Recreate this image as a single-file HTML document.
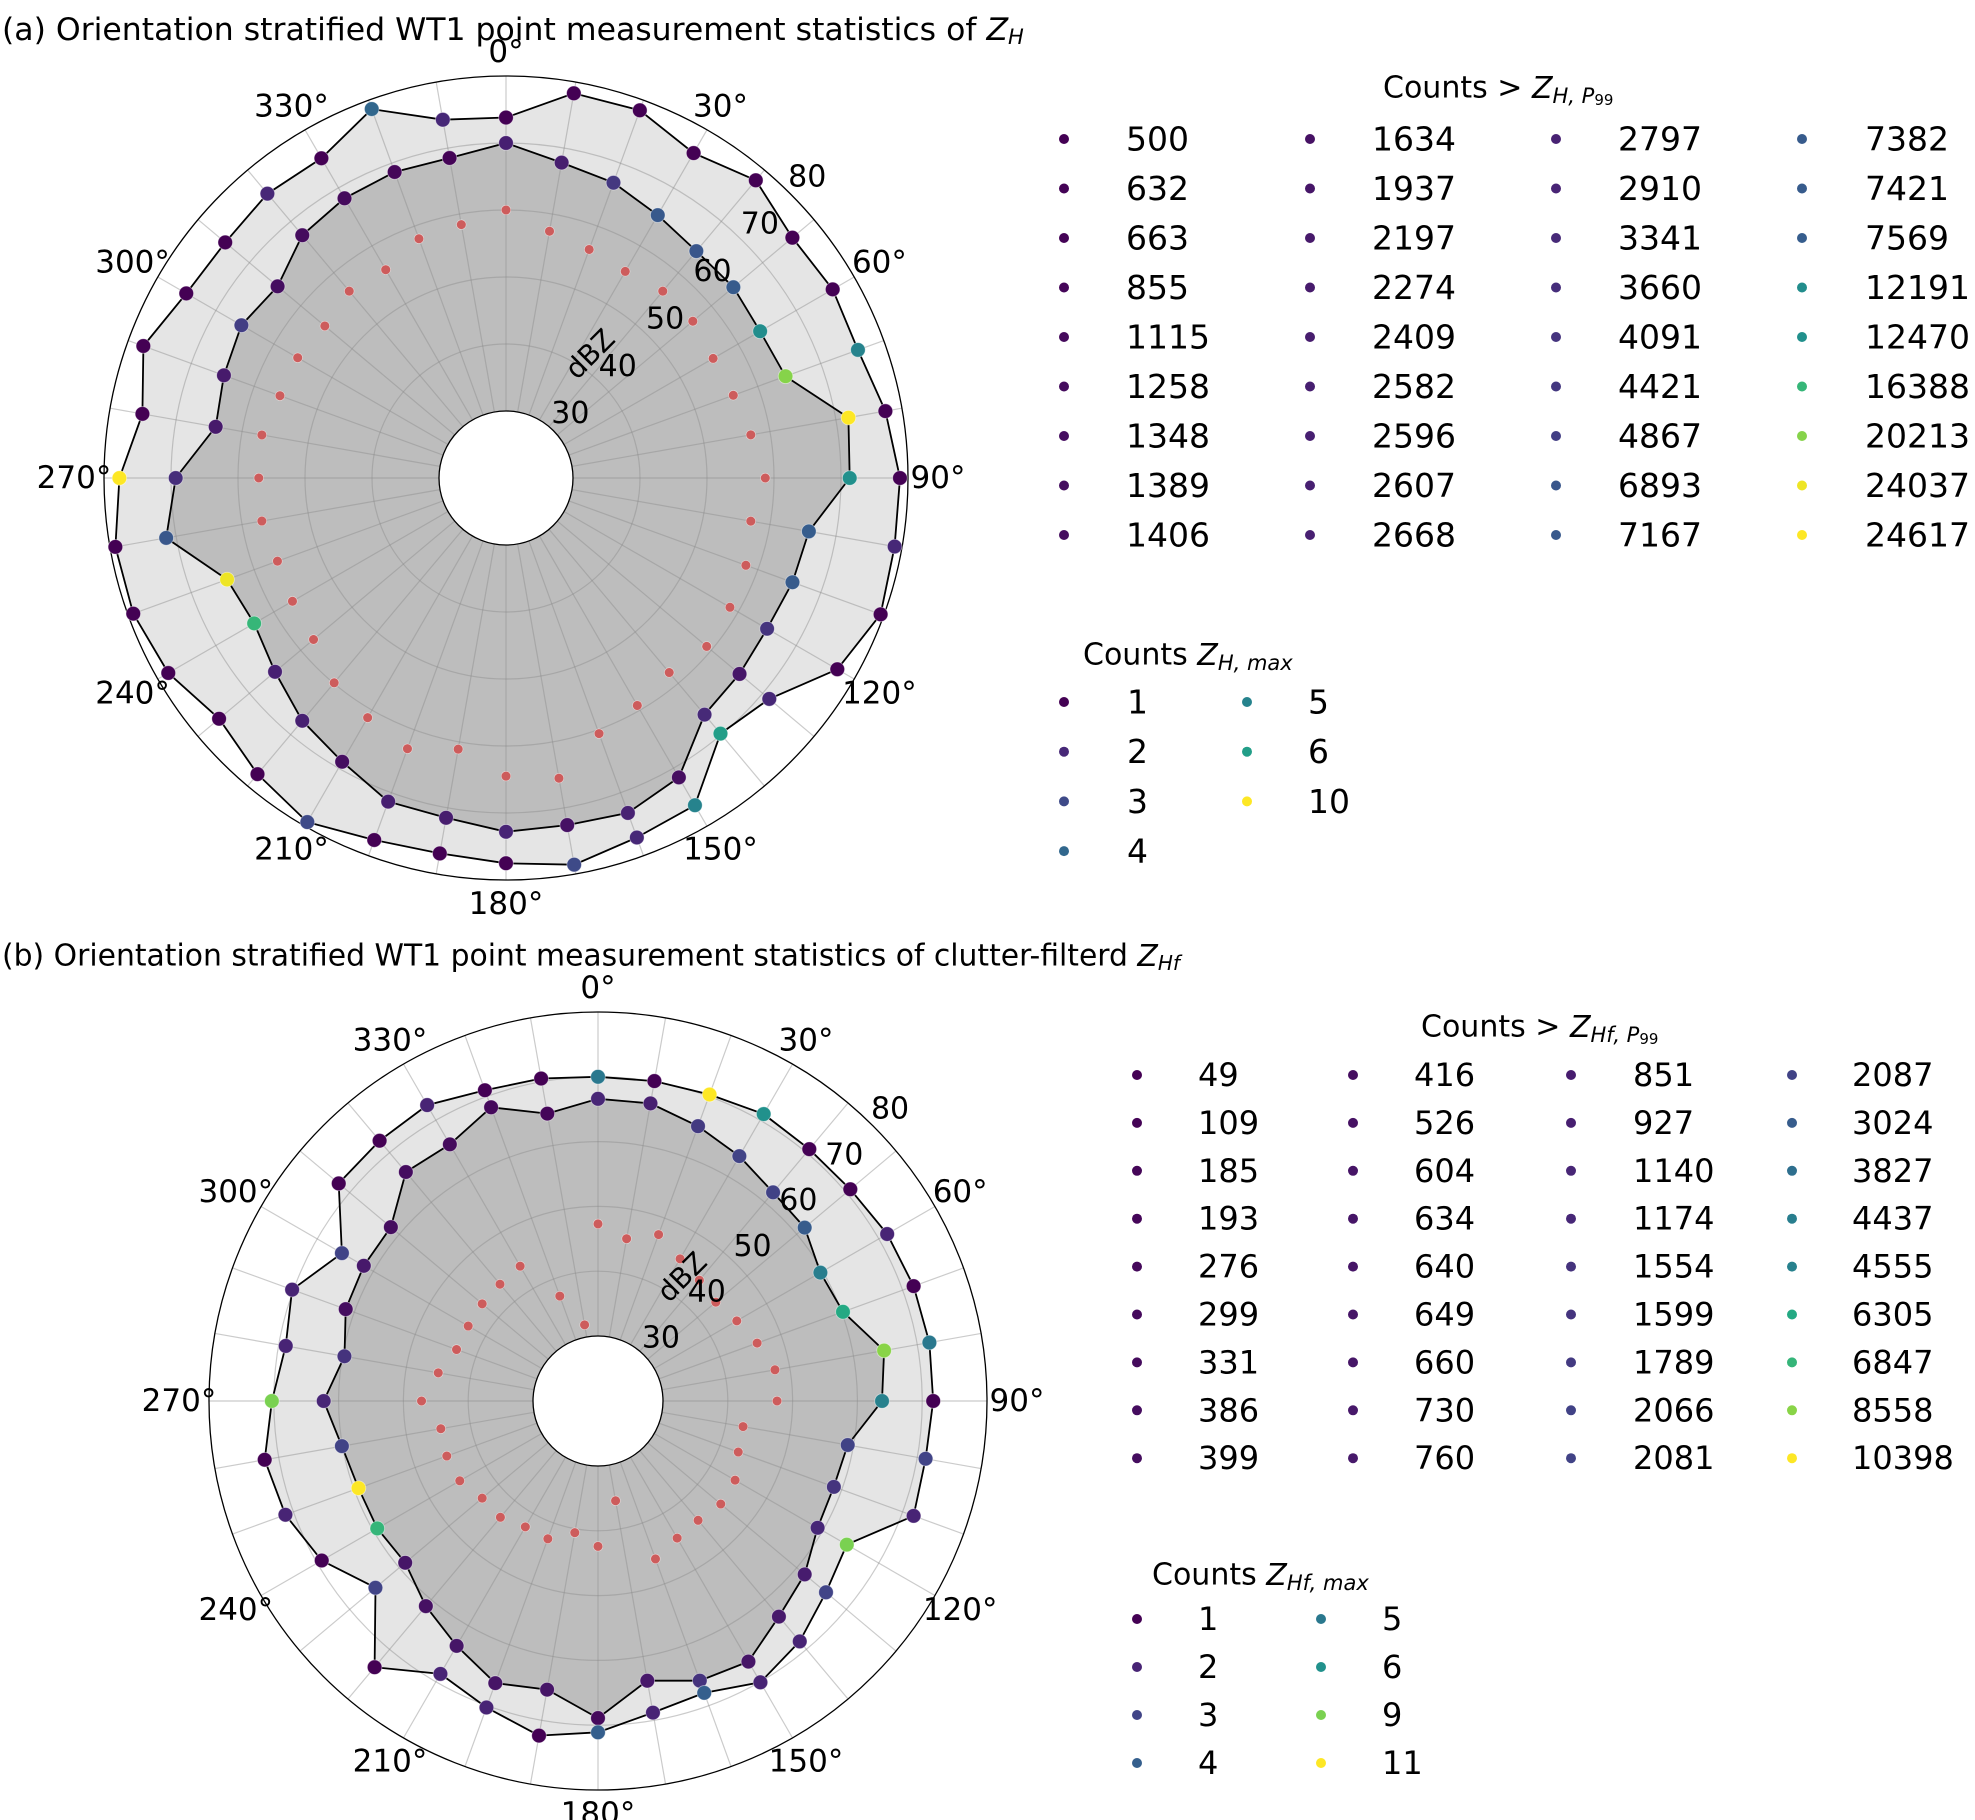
<!DOCTYPE html>
<html><head><meta charset="utf-8"><style>
html,body{margin:0;padding:0;background:#fff;}
svg{display:block;font-family:"DejaVu Sans","Liberation Sans",sans-serif;}
</style></head><body>
<svg id="fig" width="1975" height="1820" viewBox="0 0 1975 1820" xmlns="http://www.w3.org/2000/svg">
<rect width="1975" height="1820" fill="#fff"/>
<text x="2" y="30" font-size="31.5" dominant-baseline="central">(a) Orientation stratified WT1 point measurement statistics of <tspan font-style="italic">Z</tspan><tspan font-style="italic" font-size="21" dy="7">H</tspan></text>
<text x="2" y="956" font-size="29.8" dominant-baseline="central">(b) Orientation stratified WT1 point measurement statistics of clutter-filterd <tspan font-style="italic">Z</tspan><tspan font-style="italic" font-size="20" dy="7">Hf</tspan></text>
<g id="plotA"></g>
<g id="plotB"></g>
<g id="legends"></g>
</svg>
<script>
const angles = [0,10,20,30,40,50,60,70,80,90,100,110,120,130,140,150,160,170,180,190,200,210,220,230,240,250,260,270,280,290,300,310,320,330,340,350];
const rTicks = [30,40,50,60,70,80];
const thetaTicks = [0,30,60,90,120,150,180,210,240,270,300,330];

// Panel (a)
const maxA = [73.8,78.3,78.4,76.0,78.0,75.8,76.3,75.9,77.5,78.8,78.9,79.5,77.1,71.3,69.8,76.4,77.1,78.6,77.5,76.9,77.5,79.3,77.7,75.9,78.2,79.2,79.2,77.7,75.1,77.6,75.1,74.7,75.4,75.1,78.6,74.3];
const p99A = [70.0,67.8,66.9,65.3,64.2,64.3,63.8,64.4,71.9,71.3,65.9,65.5,65.0,65.5,66.1,71.6,73.2,72.6,72.8,71.5,71.4,68.9,67.3,65.0,63.4,64.3,71.5,69.3,64.0,64.8,65.6,64.5,67.3,68.2,68.6,68.5];
const medA = [60.0,57.4,56.3,55.6,56.4,56.4,55.7,56.1,57.1,58.7,57.1,58.1,58.6,59.1,57.9,59.2,60.6,65.5,64.5,61.1,63.0,61.3,59.9,57.5,56.8,56.3,57.0,56.9,57.0,55.9,55.9,55.3,56.4,55.9,58.0,58.4];
const maxCountA = [1,1,1,1,1,1,1,5,1,1,2,1,1,2,6,5,2,3,1,1,1,3,1,1,1,1,1,10,1,1,1,1,2,1,4,2];
const p99CountA = [2600,2500,4400,7167,6893,7382,12191,20213,24617,12470,7569,7421,4091,1937,3341,1406,2797,1634,2910,2409,2582,1348,2607,2668,16388,24037,7000,3660,2197,2274,4867,1389,1258,1115,855,632];
const legP99A = [500,632,663,855,1115,1258,1348,1389,1406,1634,1937,2197,2274,2409,2582,2596,2607,2668,2797,2910,3341,3660,4091,4421,4867,6893,7167,7382,7421,7569,12191,12470,16388,20213,24037,24617];
const legMaxA = [1,2,3,4,5,6,10];

// Panel (b)
const maxB = [70.0,70.1,70.3,71.1,70.7,70.8,71.5,71.8,71.9,71.7,71.3,71.8,64.3,65.9,68.4,70.1,67.9,68.8,71.1,72.4,70.3,68.6,73.6,64.8,69.2,71.3,72.2,70.3,68.9,70.2,65.6,72.2,72.4,72.7,71.0,70.5];
const p99B = [66.6,66.6,65.1,63.6,62.0,61.6,59.6,60.2,64.8,63.8,59.1,58.7,59.1,61.6,63.4,66.4,65.9,63.8,68.9,65.2,66.3,63.6,61.3,58.8,59.3,59.3,60.1,62.3,59.7,61.4,61.7,61.7,66.1,65.7,68.2,65.0];
const medB = [47.3,45.4,47.3,45.3,44.3,43.7,44.7,46.1,47.7,47.6,42.7,43.0,44.4,44.7,44.0,44.4,45.9,35.6,42.4,40.6,42.6,42.4,43.4,43.3,44.6,44.8,44.6,47.2,45.0,43.2,43.1,43.3,43.5,44.0,37.2,31.9];
const maxCountB = [5,1,11,6,1,1,2,1,5,1,3,2,9,3,2,2,4,2,4,1,2,2,1,3,1,2,1,9,2,2,3,1,1,2,1,1];
const p99CountB = [1140,927,1789,2081,2066,3024,4437,6305,8558,4555,2087,1599,1174,851,760,649,1554,730,299,640,604,660,526,634,6847,10398,2087,1140,1554,416,760,399,386,331,276,193];
const legP99B = [49,109,185,193,276,299,331,386,399,416,526,604,634,640,649,660,730,760,851,927,1140,1174,1554,1599,1789,2066,2081,2087,3024,3827,4437,4555,6305,6847,8558,10398];
const legMaxB = [1,2,3,4,5,6,9,11];

const NS = "http://www.w3.org/2000/svg";
const VIR = ["#440154","#482475","#414487","#355f8d","#2a788e","#21918c","#22a884","#44bf70","#7ad151","#bddf26","#fde725"];
function hx(c){return [parseInt(c.substr(1,2),16),parseInt(c.substr(3,2),16),parseInt(c.substr(5,2),16)];}
function viridis(t){
  t=Math.max(0,Math.min(1,t));
  const f=t*10, i=Math.min(9,Math.floor(f)), u=f-i;
  const a=hx(VIR[i]), b=hx(VIR[i+1]);
  return "rgb("+a.map((v,k)=>Math.round(v+(b[k]-v)*u)).join(",")+")";
}
function mk(tag, attrs, parent){
  const e=document.createElementNS(NS,tag);
  for(const k in attrs) e.setAttribute(k,attrs[k]);
  parent.appendChild(e); return e;
}

function drawPolar(g, cx, cy, r0, r1, maxV, p99V, medV, maxC, p99C, legMax, legP99, panel){
  const rad = v => r0 + (v-30)/(80-30)*(r1-r0);
  const px = (a,v) => cx + rad(v)*Math.sin(a*Math.PI/180);
  const py = (a,v) => cy - rad(v)*Math.cos(a*Math.PI/180);
  const minMax = Math.min(...legMax), maxMax = Math.max(...legMax);
  const minP = Math.min(...legP99), maxP = Math.max(...legP99);

  const ptsMax = angles.map((a,i)=>px(a,maxV[i]).toFixed(1)+","+py(a,maxV[i]).toFixed(1)).join(" ");
  const ptsP = angles.map((a,i)=>px(a,p99V[i]).toFixed(1)+","+py(a,p99V[i]).toFixed(1)).join(" ");
  const fMax = mk("polygon",{points:ptsMax,fill:"#e5e5e5",stroke:"none"},g);
  
  
  const fP = mk("polygon",{points:ptsP,fill:"#bdbdbd",stroke:"none"},g);
  
  

  for(let a=0;a<360;a+=10){
    const l = mk("line",{x1:px(a,30),y1:py(a,30),x2:px(a,80),y2:py(a,80),stroke:"rgba(140,140,140,0.45)","stroke-width":1.2},g);
    
    
  }
  rTicks.forEach(v=>{
    if(v>30 && v<80){
      const c = mk("circle",{cx:cx,cy:cy,r:rad(v),fill:"none",stroke:"rgba(140,140,140,0.45)","stroke-width":1.2},g);
      
      
    }
  });
  const oc = mk("circle",{cx:cx,cy:cy,r:r1,fill:"none",stroke:"#000","stroke-width":1.3},g);
  
  
  const hole = mk("circle",{cx:cx,cy:cy,r:r0,fill:"#fff",stroke:"#000","stroke-width":1.3},g);
  
  

  const lMax = mk("polygon",{points:ptsMax,fill:"none",stroke:"#000","stroke-width":1.8},g);
  
  
  const lP = mk("polygon",{points:ptsP,fill:"none",stroke:"#000","stroke-width":1.8},g);
  
  

  angles.forEach((a,i)=>{
    const m = mk("circle",{cx:px(a,medV[i]),cy:py(a,medV[i]),r:4.8,fill:"#cd5c5c",stroke:"rgba(255,255,255,0.6)","stroke-width":0.6},g);
    
    
    const p = mk("circle",{cx:px(a,p99V[i]),cy:py(a,p99V[i]),r:7.3,fill:viridis((p99C[i]-minP)/(maxP-minP)),stroke:"rgba(255,255,255,0.5)","stroke-width":0.8},g);
    
    
    const q = mk("circle",{cx:px(a,maxV[i]),cy:py(a,maxV[i]),r:7.3,fill:viridis((maxC[i]-minMax)/(maxMax-minMax)),stroke:"rgba(255,255,255,0.5)","stroke-width":0.8},g);
    
    
  });

  thetaTicks.forEach(a=>{
    const s=Math.abs(Math.sin(a*Math.PI/180));
    const R = r1 + 24 + 6*s;
    const t = mk("text",{x:cx+R*Math.sin(a*Math.PI/180),y:cy-R*Math.cos(a*Math.PI/180),"font-size":31,"text-anchor":"middle","dominant-baseline":"central"},g);
    t.textContent = a+"°";
    
    
  });
  rTicks.forEach(v=>{
    const R = rad(v)+24, an = 45*Math.PI/180;
    const t = mk("text",{x:cx+R*Math.sin(an),y:cy-R*Math.cos(an),"font-size":30,"text-anchor":"middle","dominant-baseline":"central"},g);
    t.textContent = v;
    
    
  });
  const u = mk("text",{x:cx+84,y:cy-124,"font-size":28,"text-anchor":"middle","dominant-baseline":"central",transform:"rotate(-45 "+(cx+84)+" "+(cy-124)+")"},g);
  u.textContent="dBZ";
  
  
}

function drawLegend(g, vals, titleHTML, tx, ty, anchor, dotX, textX, y0, dy, nrows, fs, panel, kind){
  const t = mk("text",{x:tx,y:ty,"font-size":30,"text-anchor":anchor,"dominant-baseline":"central"},g);
  t.innerHTML = titleHTML;
  
  
  const mn=Math.min(...vals), mx=Math.max(...vals);
  vals.forEach((v,i)=>{
    const col=Math.floor(i/nrows), row=i%nrows, y=y0+row*dy;
    const d = mk("circle",{cx:dotX[col],cy:y,r:5,fill:viridis((v-mn)/(mx-mn))},g);
    
    
    const tt = mk("text",{x:textX[col],y:y,"font-size":fs,"dominant-baseline":"central"},g);
    tt.textContent=v;
    
    
  });
}

drawPolar(document.getElementById("plotA"),506,478,67,402,maxA,p99A,medA,maxCountA,p99CountA,legMaxA,legP99A,"a");
drawPolar(document.getElementById("plotB"),598,1401,65,389,maxB,p99B,medB,maxCountB,p99CountB,legMaxB,legP99B,"b");

const L=document.getElementById("legends");
drawLegend(L,legP99A,'Counts &gt; <tspan font-style="italic">Z</tspan><tspan font-style="italic" font-size="21" dy="8">H, P</tspan><tspan font-size="15" dy="4">99</tspan>',1383,88,"start",[1064,1310,1556,1802],[1126,1372,1618,1865],139,49.5,9,33,"a","p99");
drawLegend(L,legMaxA,'Counts <tspan font-style="italic">Z</tspan><tspan font-style="italic" font-size="21" dy="8">H, max</tspan>',1083,655,"start",[1064,1247],[1127,1308],702,49.7,4,33,"a","max");
drawLegend(L,legP99B,'Counts &gt; <tspan font-style="italic">Z</tspan><tspan font-style="italic" font-size="21" dy="8">Hf, P</tspan><tspan font-size="15" dy="4">99</tspan>',1421,1027,"start",[1137,1353,1571,1792],[1198,1414,1633,1852],1075,47.9,9,32,"b","p99");
drawLegend(L,legMaxB,'Counts <tspan font-style="italic">Z</tspan><tspan font-style="italic" font-size="21" dy="8">Hf, max</tspan>',1152,1575,"start",[1137,1321],[1198,1382],1619,48,4,32,"b","max");
</script>
</body></html>
